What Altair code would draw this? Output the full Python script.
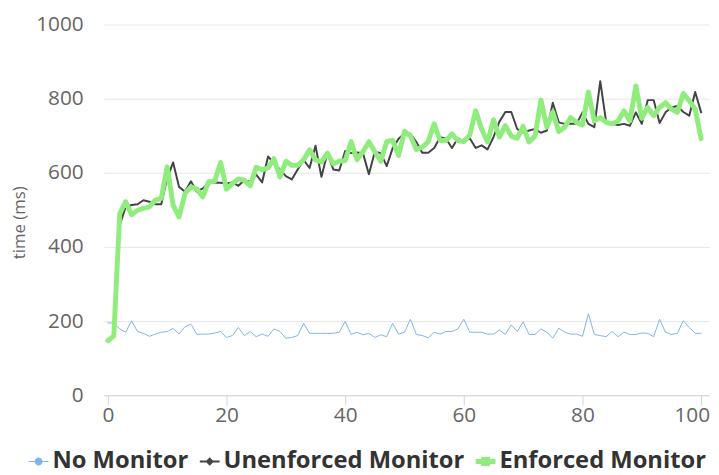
import altair as alt
import pandas as pd

x_values = list(range(101))

no_monitor = [
    195, 195, 179, 170, 201, 172, 167, 159, 165, 170,
    172, 180, 165, 185, 192, 164, 165, 165, 168, 172,
    156, 161, 183, 161, 172, 158, 165, 159, 179, 172,
    154, 156, 161, 194, 167, 167, 167, 167, 167, 170,
    199, 164, 170, 163, 167, 156, 163, 158, 194, 165,
    170, 205, 164, 161, 155, 170, 165, 172, 172, 179,
    205, 170, 170, 170, 165, 165, 176, 164, 190, 172,
    198, 164, 164, 179, 170, 154, 181, 170, 165, 165,
    159, 220, 164, 161, 158, 172, 158, 170, 164, 164,
    168, 167, 158, 205, 170, 164, 167, 201, 183, 167,
    167,
]

unenforced = [
    150, 160, 459, 508, 513, 515, 526, 522, 515, 515,
    585, 628, 562, 549, 577, 549, 558, 571, 574, 573,
    571, 574, 565, 580, 576, 595, 574, 644, 626, 609,
    591, 582, 609, 635, 613, 673, 589, 653, 609, 606,
    659, 653, 655, 653, 596, 657, 653, 618, 666, 692,
    706, 705, 683, 654, 654, 667, 696, 692, 667, 693,
    684, 693, 667, 674, 663, 696, 738, 764, 764, 718,
    709, 714, 718, 708, 714, 789, 736, 732, 732, 732,
    763, 732, 723, 847, 736, 732, 729, 732, 727, 763,
    732, 796, 796, 734, 763, 776, 780, 764, 754, 818,
    763,
]

enforced = [
    147, 160, 490, 522, 487, 499, 504, 508, 526, 531,
    616, 513, 481, 544, 562, 556, 535, 576, 577, 628,
    556, 571, 583, 580, 565, 615, 608, 613, 638, 589,
    631, 620, 620, 635, 662, 635, 629, 653, 624, 631,
    633, 684, 635, 657, 684, 657, 631, 684, 688, 647,
    712, 699, 663, 669, 684, 732, 687, 687, 705, 687,
    684, 702, 767, 718, 683, 743, 696, 727, 699, 693,
    725, 683, 699, 796, 723, 764, 711, 723, 749, 736,
    729, 818, 740, 749, 736, 732, 740, 767, 740, 834,
    747, 776, 754, 776, 789, 772, 763, 814, 794, 772,
    692,
]

series_names = ["No Monitor", "Unenforced Monitor", "Enforced Monitor"]
series_colors = ["#7cb5ec", "#434348", "#90ed7d"]
series_widths = [1, 2, 5]
series_symbols = [
    "M-1,-0.06H1V0.06H-1Z M0.4,0A0.4,0.4,0,1,1,-0.4,0A0.4,0.4,0,1,1,0.4,0Z",
    "M-1,-0.1H1V0.1H-1Z M0,-0.42L0.42,0L0,0.42L-0.42,0Z",
    "M-1,-0.25H1V0.25H-1Z M-0.45,-0.45H0.45V0.45H-0.45Z",
]

x_ticks = [0, 20, 40, 60, 80, 100]
y_ticks = [0, 200, 400, 600, 800, 1000]

rows = []
for name, vals in zip(series_names, [no_monitor, unenforced, enforced]):
    for xv, v in zip(x_values, vals):
        rows.append({"x": xv, "time": v, "series": name})
df = pd.DataFrame(rows)

# last x tick label, drawn shifted left as the reference does (it is kept inside the chart)
last_tick_df = pd.DataFrame({"x": [x_ticks[-1]], "label": [str(x_ticks[-1])]})

FONT = "Open Sans"

x_enc = alt.X(
    "x:Q",
    scale=alt.Scale(domain=[-0.667, 101.333], nice=False, zero=False),
    axis=alt.Axis(
        values=x_ticks, grid=False, domainColor="#ccd6eb", tickColor="#ccd6eb",
        tickSize=10, labelFont=FONT, labelFontSize=21, labelColor="#666666",
        labelPadding=0, labelFlush=False, title=None,
        labelExpr="datum.value == 100 ? '' : datum.label",
    ),
)
y_enc = alt.Y(
    "time:Q",
    scale=alt.Scale(domain=[0, 1000], nice=False),
    axis=alt.Axis(
        values=y_ticks, format="d", grid=True, gridColor="#e6e6e6", domain=False, ticks=False,
        labelFont=FONT, labelFontSize=21, labelColor="#666666", labelPadding=21,
        title="time (ms)", titleFont=FONT, titleFontSize=17, titleColor="#666666",
        titleFontWeight="normal", titleAngle=270, titleX=-85, titleY=200,
        titleBaseline="middle", titleAlign="center",
    ),
)

base = alt.Chart(df).encode(x=x_enc, y=y_enc)

layers = []
for name, col, w in zip(series_names, series_colors, series_widths):
    layers.append(
        base.transform_filter(alt.datum.series == name).mark_line(
            color=col, strokeWidth=w, strokeJoin="round", strokeCap="round"
        )
    )

legend = alt.Legend(
    orient="none", legendX=-78, legendY=430, direction="horizontal", title=None,
    symbolSize=400, labelFont=FONT, labelFontSize=24, labelFontWeight="bold",
    labelColor="#333333", labelOffset=2, columnPadding=9, symbolOpacity=1,
    padding=0, symbolStrokeWidth=0, labelLimit=400,
)

legend_layer = base.mark_point(filled=True, opacity=0, size=400).encode(
    color=alt.Color("series:N", scale=alt.Scale(domain=series_names, range=series_colors), legend=legend),
    shape=alt.Shape("series:N", scale=alt.Scale(domain=series_names, range=series_symbols), legend=legend),
)

last_label = alt.Chart(last_tick_df).mark_text(
    dx=-9, align="center", baseline="top", font=FONT, fontSize=21, color="#666666"
).encode(x=x_enc, y=alt.value(385), text="label:N")

chart = alt.layer(*layers, legend_layer, last_label).properties(
    width=612, height=375,
    padding={"left": 97, "top": 14, "right": 2, "bottom": 80},
    autosize=alt.AutoSizeParams(type="none"),
).configure_view(stroke=None)

chart.save("out.html", embed_options={"renderer": "svg", "actions": False})
